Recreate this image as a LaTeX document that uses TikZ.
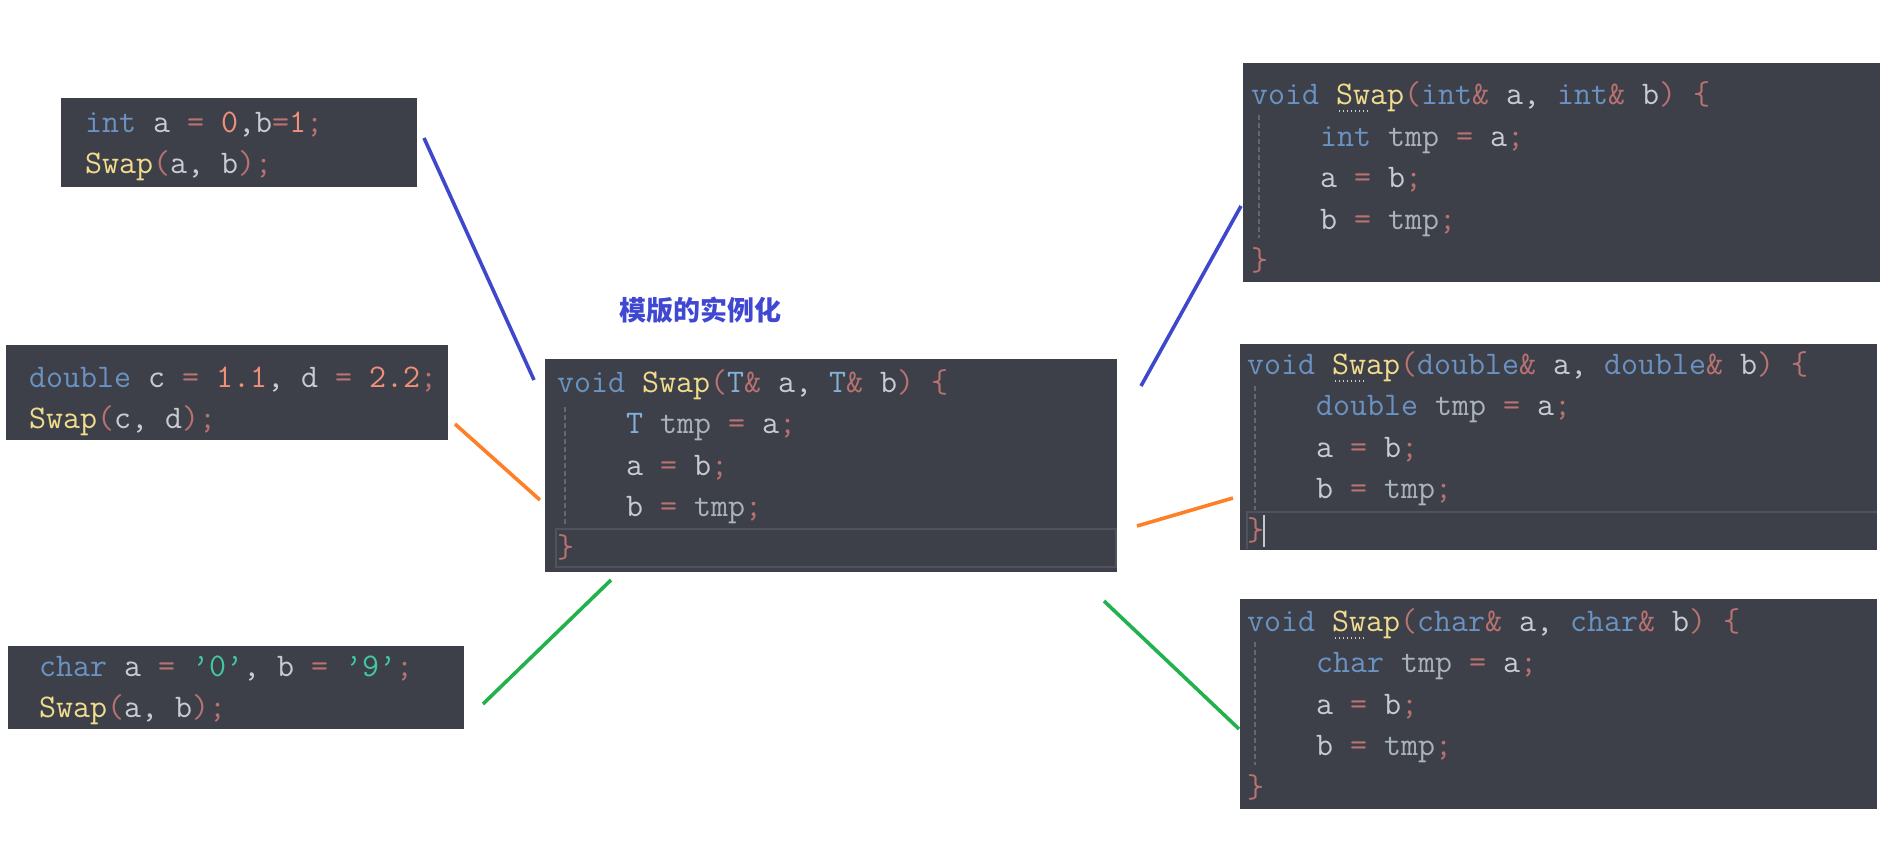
\documentclass[tikz,border=0pt]{standalone}
\usepackage{fontspec}
\newfontfamily\cjk{Noto Sans CJK SC}
\definecolor{bg}{RGB}{61,64,72}
\definecolor{kw}{RGB}{106,146,194}
\definecolor{tk}{RGB}{130,176,214}
\definecolor{fn}{RGB}{240,220,140}
\definecolor{pu}{RGB}{184,114,114}
\definecolor{va}{RGB}{200,204,210}
\definecolor{tm}{RGB}{170,178,188}
\definecolor{nu}{RGB}{240,144,120}
\definecolor{cl}{RGB}{64,200,160}
\definecolor{guide}{RGB}{100,103,111}
\definecolor{hl}{RGB}{80,83,91}
\definecolor{pblue}{RGB}{63,72,204}
\definecolor{porange}{RGB}{255,127,39}
\definecolor{pgreen}{RGB}{34,177,76}
\definecolor{ttl}{RGB}{64,72,210}
\newcommand\cK[1]{\textcolor{kw}{#1}}
\newcommand\cT[1]{\textcolor{tk}{#1}}
\newcommand\cF[1]{\textcolor{fn}{#1}}
\newcommand\cP[1]{\textcolor{pu}{#1}}
\newcommand\cV[1]{\textcolor{va}{#1}}
\newcommand\cM[1]{\textcolor{tm}{#1}}
\newcommand\cN[1]{\textcolor{nu}{#1}}
\newcommand\cC[1]{\textcolor{cl}{#1}}
\tikzset{
  codebox/.style={fill=bg, draw=none, inner sep=0pt, outer sep=0pt, anchor=north west},
  code/.style={anchor=base west, inner sep=0pt, font=\ttfamily\fontsize{33}{41}\selectfont, text=va},
  guideline/.style={draw=guide, line width=1.2pt, dash pattern=on 5pt off 3pt},
  hlband/.style={draw=hl, line width=2.5pt},
  swapdots/.style={draw=black!20, line width=1.3pt, dash pattern=on 1.3pt off 2.7pt},
  conn/.style={line width=3.6pt},
}
\begin{document}
\begin{tikzpicture}[x=1pt, y=-1pt]
\fill[white] (0,0) rectangle (1904,852);
\useasboundingbox (0,0) rectangle (1904,852);

% ---- left boxes ----
\node[codebox, minimum width=356pt, minimum height=89pt] (b1) at (61,98) {};
\node[code] (b1a) at (85,132) {\cK{int} \cV{a} \cP{=} \cN{0}\cV{,}\cV{b}\cP{=}\cN{1}\cP{;}};
\node[code] (b1b) at (85,173) {\cF{Swap}\cP{(}\cV{a}, \cV{b}\cP{)}\cP{;}};

\node[codebox, minimum width=442pt, minimum height=95pt] (b2) at (6,345) {};
\node[code] (b2a) at (29,387) {\cK{double} \cV{c} \cP{=} \cN{1.1}\cV{,} \cV{d} \cP{=} \cN{2.2}\cP{;}};
\node[code] (b2b) at (29,428) {\cF{Swap}\cP{(}\cV{c}, \cV{d}\cP{)}\cP{;}};

\node[codebox, minimum width=456pt, minimum height=83pt] (b3) at (8,646) {};
\node[code] (b3a) at (39,676) {\cK{char} \cV{a} \cP{=} \cC{\textquoteright0\textquoteright}\cV{,} \cV{b} \cP{=} \cC{\textquoteright9\textquoteright}\cP{;}};
\node[code] (b3b) at (39,717) {\cF{Swap}\cP{(}\cV{a}, \cV{b}\cP{)}\cP{;}};

% ---- title ----
\node[font=\cjk\bfseries\fontsize{27}{30}\selectfont, text=ttl, inner sep=0pt] (title) at (700,310) {模版的实例化};

% ---- center template box ----
\node[codebox, minimum width=572pt, minimum height=213pt] (tp) at (545,359) {};
\draw[hlband] (556,529) rectangle (1116,567);
\draw[guideline] (565,407) -- (565,527);
\node[code] (tp1) at (557,392) {\cK{void} \cF{Swap}\cP{(}\cT{T}\cP{\&} \cV{a}, \cT{T}\cP{\&} \cV{b}\cP{)} \cP{\{}};
\node[code] (tp2) at (626,433) {\cT{T} \cM{tmp} \cP{=} \cV{a}\cP{;}};
\node[code] (tp3) at (626,475) {\cV{a} \cP{=} \cV{b}\cP{;}};
\node[code] (tp4) at (626,516) {\cV{b} \cP{=} \cM{tmp}\cP{;}};
\node[code] (tp5) at (557,557) {\cP{\}}};

% ---- right box int ----
\node[codebox, minimum width=637pt, minimum height=219pt] (r1) at (1243,63) {};
\draw[guideline] (1259,115) -- (1259,238);
\node[code] (r1a) at (1251,104) {\cK{void} \cF{Swap}\cP{(}\cK{int}\cP{\&} \cV{a}, \cK{int}\cP{\&} \cV{b}\cP{)} \cP{\{}};
\node[code] (r1b) at (1320,146) {\cK{int} \cM{tmp} \cP{=} \cV{a}\cP{;}};
\node[code] (r1c) at (1320,187) {\cV{a} \cP{=} \cV{b}\cP{;}};
\node[code] (r1d) at (1320,229) {\cV{b} \cP{=} \cM{tmp}\cP{;}};
\node[code] (r1e) at (1251,270) {\cP{\}}};
\draw[swapdots] (1339,111) -- (1369,111);

% ---- right box double ----
\node[codebox, minimum width=637pt, minimum height=206pt] (r2) at (1240,344) {};
\draw[hl, line width=2.5pt] (1247,549) -- (1247,512) -- (1877,512);
\draw[guideline] (1255,386) -- (1255,510);
\node[code] (r2a) at (1247,374) {\cK{void} \cF{Swap}\cP{(}\cK{double}\cP{\&} \cV{a}, \cK{double}\cP{\&} \cV{b}\cP{)} \cP{\{}};
\node[code] (r2b) at (1316,415) {\cK{double} \cM{tmp} \cP{=} \cV{a}\cP{;}};
\node[code] (r2c) at (1316,457) {\cV{a} \cP{=} \cV{b}\cP{;}};
\node[code] (r2d) at (1316,498) {\cV{b} \cP{=} \cM{tmp}\cP{;}};
\node[code] (r2e) at (1247,540) {\cP{\}}};
\draw[black!22, line width=1.6pt] (1264,515) -- (1264,547);
\draw[swapdots] (1335,381) -- (1365,381);

% ---- right box char ----
\node[codebox, minimum width=637pt, minimum height=210pt] (r3) at (1240,599) {};
\draw[guideline] (1255,642) -- (1255,765);
\node[code] (r3a) at (1247,631) {\cK{void} \cF{Swap}\cP{(}\cK{char}\cP{\&} \cV{a}, \cK{char}\cP{\&} \cV{b}\cP{)} \cP{\{}};
\node[code] (r3b) at (1316,672) {\cK{char} \cM{tmp} \cP{=} \cV{a}\cP{;}};
\node[code] (r3c) at (1316,714) {\cV{a} \cP{=} \cV{b}\cP{;}};
\node[code] (r3d) at (1316,755) {\cV{b} \cP{=} \cM{tmp}\cP{;}};
\node[code] (r3e) at (1247,797) {\cP{\}}};
\draw[swapdots] (1335,638) -- (1365,638);

% ---- connectors ----
\coordinate (bl1) at (424,138);  \coordinate (bl2) at (534,380);
\coordinate (ol1) at (455,424);  \coordinate (ol2) at (540,500);
\coordinate (gl1) at (483,704);  \coordinate (gl2) at (611,580);
\coordinate (br1) at (1141,386); \coordinate (br2) at (1241,206);
\coordinate (or1) at (1137,526); \coordinate (or2) at (1233,498);
\coordinate (gr1) at (1104,601); \coordinate (gr2) at (1239,729);
\draw[conn, pblue] (bl1) -- (bl2);
\draw[conn, porange] (ol1) -- (ol2);
\draw[conn, pgreen] (gl1) -- (gl2);
\draw[conn, pblue] (br1) -- (br2);
\draw[conn, porange] (or1) -- (or2);
\draw[conn, pgreen] (gr1) -- (gr2);
\end{tikzpicture}
\end{document}
